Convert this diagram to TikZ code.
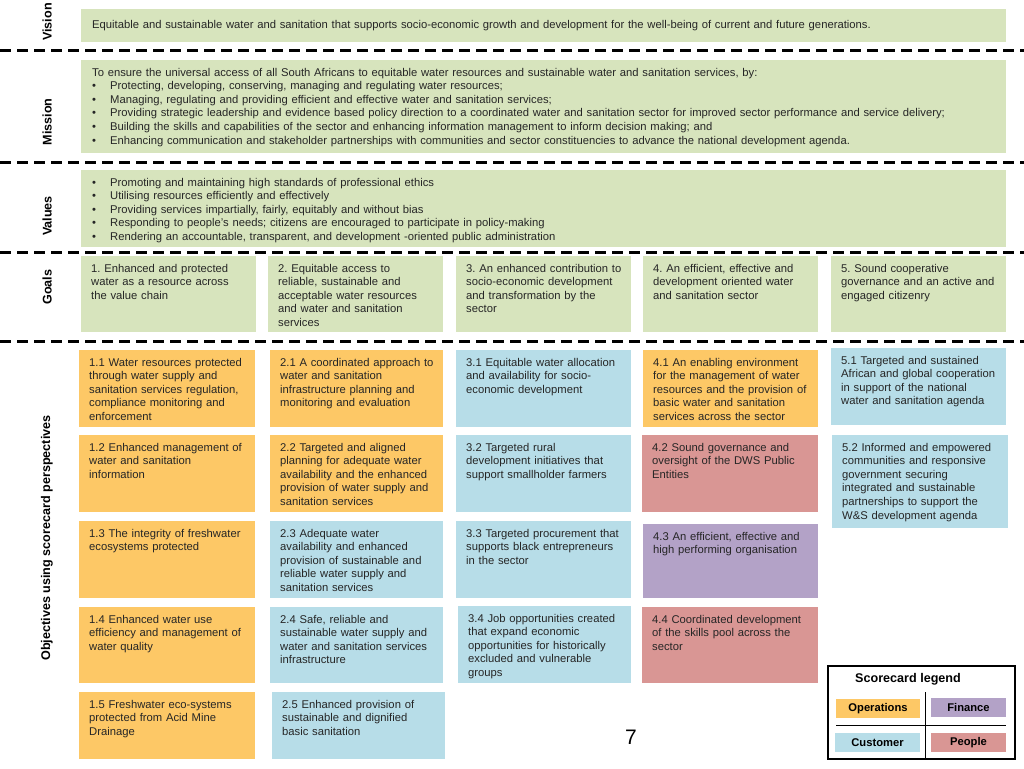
\documentclass[tikz,border=0pt]{standalone}
\usepackage{fontspec}
\setmainfont{Liberation Sans}
\frenchspacing
\definecolor{vgreen}{HTML}{D7E4BD}
\definecolor{opsorange}{HTML}{FDC866}
\definecolor{custblue}{HTML}{B7DDE8}
\definecolor{pplred}{HTML}{D99694}
\definecolor{finpurple}{HTML}{B3A2C7}
\begin{document}
\begin{tikzpicture}[x=1pt,y=-1pt,
  txt/.style={anchor=north west,inner xsep=10pt,inner ysep=7.7pt,text width=170pt,align=left,
    font=\fontsize{11.25}{13.6}\selectfont,text=black!85},
  sect/.style={rotate=90,font=\fontsize{12.6}{14}\selectfont\bfseries},
  divider/.style={line width=3pt,dash pattern=on 11pt off 6pt},
  lgdkey/.style={minimum height=19pt,inner sep=0pt,font=\fontsize{11.2}{13}\selectfont\bfseries}]
\useasboundingbox (0,0) rectangle (1024,768);
% section labels
\node[sect] (lvision) at (47,22) {Vision};
\node[sect] (lmission) at (47,122) {Mission};
\node[sect] (lvalues) at (47,216) {Values};
\node[sect] (lgoals) at (47,287) {Goals};
\node[sect] (lobj) at (47,538) {Objectives using scorecard perspectives};
% dashed dividers
\draw[divider] (0,51) -- (1024,51);
\draw[divider] (0,162) -- (1024,162);
\draw[divider] (0,252) -- (1024,252);
\draw[divider] (0,341) -- (1024,341);
% vision
\fill[vgreen] (81,9) rectangle (1006,42);
\node[txt,anchor=west,inner xsep=11pt,text width=900pt] (vision) at (81,25.5) {Equitable and sustainable water and sanitation that supports socio-economic growth and development for the well-being of current and future generations.};
% mission
\fill[vgreen] (81,60) rectangle (1006,153);
\node[txt,inner xsep=11pt,text width=900pt] (mission) at (81,60) {To ensure the universal access of all South Africans to equitable water resources and sustainable water and sanitation services, by:\\
\makebox[18pt][l]{•}Protecting, developing, conserving, managing and regulating water resources;\\
\makebox[18pt][l]{•}Managing, regulating and providing efficient and effective water and sanitation services;\\
\makebox[18pt][l]{•}Providing strategic leadership and evidence based policy direction to a coordinated water and sanitation sector for improved sector performance and service delivery;\\
\makebox[18pt][l]{•}Building the skills and capabilities of the sector and enhancing information management to inform decision making; and\\
\makebox[18pt][l]{•}Enhancing communication and stakeholder partnerships with communities and sector constituencies to advance the national development agenda.};
% values
\fill[vgreen] (81,170) rectangle (1006,247);
\node[txt,inner xsep=11pt,text width=900pt] (values) at (81,170) {\makebox[18pt][l]{•}Promoting and maintaining high standards of professional ethics\\
\makebox[18pt][l]{•}Utilising resources efficiently and effectively\\
\makebox[18pt][l]{•}Providing services impartially, fairly, equitably and without bias\\
\makebox[18pt][l]{•}Responding to people's needs; citizens are encouraged to participate in policy-making\\
\makebox[18pt][l]{•}Rendering an accountable, transparent, and development -oriented public administration};
% goals
\fill[vgreen] (81,256) rectangle (256,332);
\node[txt] (g1) at (81,256) {1. Enhanced and protected\\water as a resource across\\the value chain};
\fill[vgreen] (268,256) rectangle (443,332);
\node[txt] (g2) at (268,256) {2. Equitable access to\\reliable, sustainable and\\acceptable water resources\\and water and sanitation\\services};
\fill[vgreen] (456,256) rectangle (631,332);
\node[txt] (g3) at (456,256) {3. An enhanced contribution to\\socio-economic development\\and transformation by the\\sector};
\fill[vgreen] (643,256) rectangle (818,332);
\node[txt] (g4) at (643,256) {4. An efficient, effective and\\development oriented water\\and sanitation sector};
\fill[vgreen] (831,256) rectangle (1006,332);
\node[txt] (g5) at (831,256) {5. Sound cooperative\\governance and an active and\\engaged citizenry};
% objectives, column 1
\fill[opsorange] (79,350) rectangle (255,427);
\node[txt] (o11) at (79,350) {1.1 Water resources protected\\through water supply and\\sanitation services regulation,\\compliance monitoring and\\enforcement};
\fill[opsorange] (79,435) rectangle (255,512);
\node[txt] (o12) at (79,435) {1.2 Enhanced management of\\water and sanitation\\information};
\fill[opsorange] (79,521) rectangle (255,598);
\node[txt] (o13) at (79,521) {1.3 The integrity of freshwater\\ecosystems protected};
\fill[opsorange] (79,607) rectangle (255,683);
\node[txt] (o14) at (79,607) {1.4 Enhanced water use\\efficiency and management of\\water quality};
\fill[opsorange] (79,692) rectangle (255,759);
\node[txt] (o15) at (79,692) {1.5 Freshwater eco-systems\\protected from Acid Mine\\Drainage};
% column 2
\fill[opsorange] (270,350) rectangle (443,427);
\node[txt] (o21) at (270,350) {2.1 A coordinated approach to\\water and sanitation\\infrastructure planning and\\monitoring and evaluation};
\fill[opsorange] (270,435) rectangle (443,512);
\node[txt] (o22) at (270,435) {2.2 Targeted and aligned\\planning for adequate water\\availability and the enhanced\\provision of water supply and\\sanitation services};
\fill[custblue] (270,521) rectangle (443,598);
\node[txt] (o23) at (270,521) {2.3 Adequate water\\availability and enhanced\\provision of sustainable and\\reliable water supply and\\sanitation services};
\fill[custblue] (270,607) rectangle (443,683);
\node[txt] (o24) at (270,607) {2.4 Safe, reliable and\\sustainable water supply and\\water and sanitation services\\infrastructure};
\fill[custblue] (272,692) rectangle (445,759);
\node[txt] (o25) at (272,692) {2.5 Enhanced provision of\\sustainable and dignified\\basic sanitation};
% column 3
\fill[custblue] (456,350) rectangle (631,427);
\node[txt] (o31) at (456,350) {3.1 Equitable water allocation\\and availability for socio-\\economic development};
\fill[custblue] (456,435) rectangle (631,512);
\node[txt] (o32) at (456,435) {3.2 Targeted rural\\development initiatives that\\support smallholder farmers};
\fill[custblue] (456,521) rectangle (631,598);
\node[txt] (o33) at (456,521) {3.3 Targeted procurement that\\supports black entrepreneurs\\in the sector};
\fill[custblue] (458,606) rectangle (631,683);
\node[txt] (o34) at (458,606) {3.4 Job opportunities created\\that expand economic\\opportunities for historically\\excluded and vulnerable\\groups};
% column 4
\fill[opsorange] (643,350) rectangle (818,427);
\node[txt] (o41) at (643,350) {4.1 An enabling environment\\for the management of water\\resources and the provision of\\basic water and sanitation\\services across the sector};
\fill[pplred] (642,435) rectangle (818,512);
\node[txt] (o42) at (642,435) {4.2 Sound governance and\\oversight of the DWS Public\\Entities};
\fill[finpurple] (643,524) rectangle (818,598);
\node[txt] (o43) at (643,524) {4.3 An efficient, effective and\\high performing organisation};
\fill[pplred] (642,607) rectangle (818,683);
\node[txt] (o44) at (642,607) {4.4 Coordinated development\\of the skills pool across the\\sector};
% column 5
\fill[custblue] (831,348) rectangle (1006,425);
\node[txt] (o51) at (831,348) {5.1 Targeted and sustained\\African and global cooperation\\in support of the national\\water and sanitation agenda};
\fill[custblue] (832,435) rectangle (1008,528);
\node[txt] (o52) at (832,435) {5.2 Informed and empowered\\communities and responsive\\government securing\\integrated and sustainable\\partnerships to support the\\W\&S development agenda};
% page number
\node[font=\fontsize{21}{24}\selectfont] (pgnum) at (631,737) {7};
% scorecard legend
\draw[line width=1.2pt] (828,666) rectangle (1015,759);
\node[font=\fontsize{12.6}{14}\selectfont\bfseries] (lgdtitle) at (908,679) {Scorecard legend};
\draw[line width=1pt] (925,692) -- (925,759);
\draw[line width=1pt] (836,725) -- (1006,725);
\node[lgdkey,fill=opsorange,minimum width=84pt] (kops) at (878,708.5) {Operations};
\node[lgdkey,fill=finpurple,minimum width=75pt] (kfin) at (968.5,707.5) {Finance};
\node[lgdkey,fill=custblue,minimum width=85pt] (kcust) at (877.5,742.5) {Customer};
\node[lgdkey,fill=pplred,minimum width=75pt] (kppl) at (968.5,742.5) {People};
\end{tikzpicture}
\end{document}
